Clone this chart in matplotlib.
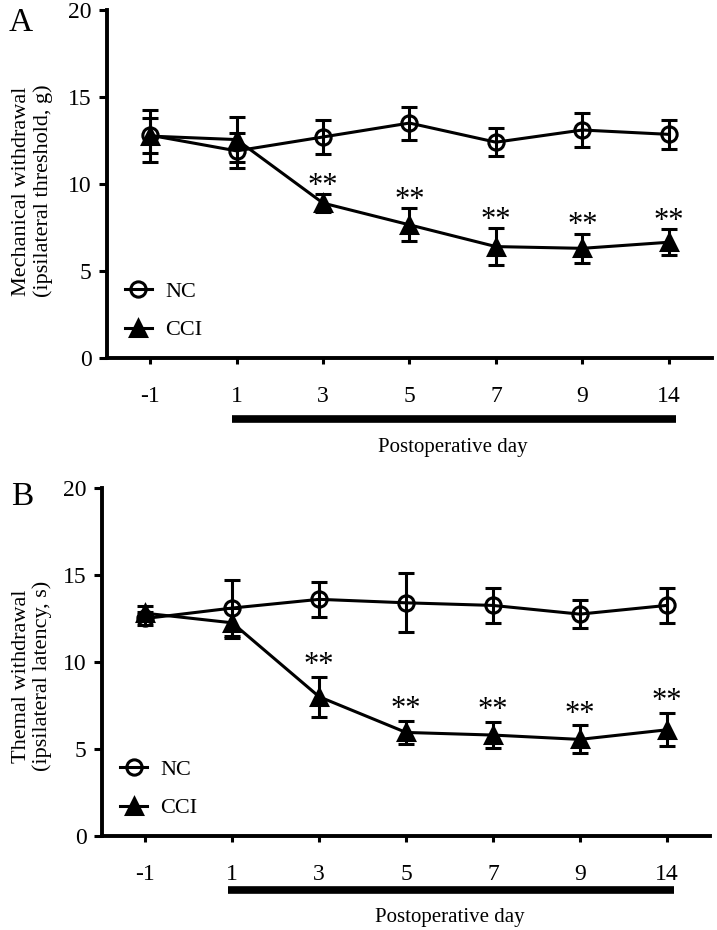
import matplotlib.pyplot as plt
import matplotlib.transforms as mtransforms
from matplotlib.lines import Line2D

plt.rcParams['font.family'] = ['Liberation Serif', 'DejaVu Serif']

days = ['-1', '1', '3', '5', '7', '9', '14']
sig = [False, False, True, True, True, True, True]

# panel A: mechanical withdrawal threshold (g)
nc_a = [12.8, 11.9, 12.7, 13.5, 12.4, 13.1, 12.85]
nc_a_err = [1.0, 1.0, 0.95, 0.95, 0.8, 1.0, 0.85]
cci_a = [12.75, 12.55, 8.9, 7.65, 6.4, 6.3, 6.65]
cci_a_err = [1.5, 1.3, 0.5, 0.95, 1.05, 0.85, 0.75]

# panel B: thermal withdrawal latency (s)
nc_b = [12.5, 13.1, 13.6, 13.4, 13.25, 12.75, 13.25]
nc_b_err = [0.4, 1.6, 1.0, 1.7, 1.0, 0.8, 1.0]
cci_b = [12.8, 12.25, 8.0, 5.95, 5.8, 5.55, 6.1]
cci_b_err = [0.4, 0.85, 1.15, 0.65, 0.75, 0.8, 0.95]

fig = plt.figure(figsize=(7.17, 9.30), dpi=100)
ax_a = fig.add_axes([0.1492, 0.6151, 0.8438, 0.3742])
ax_b = fig.add_axes([0.1423, 0.1011, 0.8480, 0.3742])

lw = 2.2
x = list(range(len(days)))


def draw_panel(ax, nc, nc_err, cci, cci_err, ylabel, star_off,
               bar_y, xlab_y, leg_top, ylab_x, ylab_y):
    ax.errorbar(x, nc, yerr=nc_err, fmt='-o', color='black', lw=lw, ms=11,
                mfc='none', mew=lw, elinewidth=lw, capsize=5.5, capthick=lw,
                zorder=3)
    ax.errorbar(x, cci, yerr=cci_err, fmt='-^', color='black', lw=lw, ms=11,
                mfc='black', mew=lw, elinewidth=lw, capsize=5.5, capthick=lw,
                zorder=3)
    for i, s in enumerate(sig):
        if s:
            ax.text(x[i], cci[i] + cci_err[i] + star_off, '**', ha='center',
                    va='center', fontsize=22)

    ax.set_xlim(-0.5, 6.5)
    ax.set_ylim(0, 20)
    ax.set_yticks([0, 5, 10, 15, 20])
    ax.set_xticks(x)
    ax.set_xticklabels(days)
    ax.tick_params(axis='y', direction='out', length=6, width=lw,
                   labelsize=17, pad=5)
    ax.tick_params(axis='x', direction='out', length=4.5, width=lw,
                   labelsize=17, pad=16)
    for side in ['top', 'right']:
        ax.spines[side].set_visible(False)
    for side in ['left', 'bottom']:
        ax.spines[side].set_linewidth(2.8)

    ax.set_ylabel(ylabel, fontsize=16, linespacing=1.1)
    ax.yaxis.set_label_coords(ylab_x, ylab_y)

    trans = mtransforms.blended_transform_factory(ax.transData, ax.transAxes)
    ax.plot([0.95, 6.08], [bar_y, bar_y], transform=trans, color='black',
            lw=5.5, solid_capstyle='butt', clip_on=False)
    ax.text(3.5, xlab_y, 'Postoperative day', transform=trans, ha='center',
            va='center', fontsize=15)

    handles = [
        Line2D([], [], color='black', lw=lw, marker='o', ms=11, mfc='none',
               mew=lw, label='NC'),
        Line2D([], [], color='black', lw=lw, marker='^', ms=11, mfc='black',
               mew=lw, label='CCI'),
    ]
    ax.legend(handles=handles, loc='upper left', bbox_to_anchor=(0.03, leg_top),
              frameon=False, fontsize=16, handlelength=1.2, handletextpad=0.6,
              labelspacing=0.8, borderpad=0, borderaxespad=0)


draw_panel(ax_a, nc_a, nc_a_err, cci_a, cci_a_err,
           'Mechanical withdrawal\n(ipsilateral threshold, g)', 0.45,
           -0.175, -0.258, 0.22, -0.09, 0.48)
draw_panel(ax_b, nc_b, nc_b_err, cci_b, cci_b_err,
           'Themal withdrawal\n(ipsilateral latency, s)', 0.65,
           -0.155, -0.235, 0.22, -0.082, 0.46)

fig.text(21 / 717, 1 - 23 / 930, 'A', fontsize=24, ha='center', va='center')
fig.text(22 / 717, 1 - 497 / 930, 'B', fontsize=24, ha='center', va='center')

fig.savefig('out.png', dpi=100)
